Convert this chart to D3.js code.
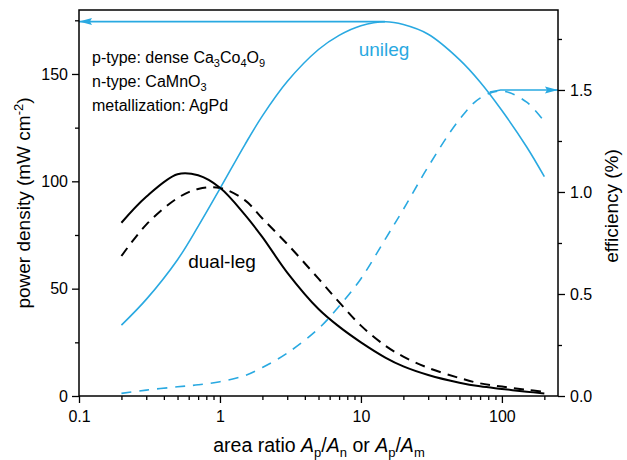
<!DOCTYPE html>
<html>
<head>
<meta charset="utf-8">
<script src="https://cdn.jsdelivr.net/npm/d3@7"></script>
<style>
    body { margin: 0; background: #fff; }
    svg { display: block; font-family: 'Liberation Sans', Arial, sans-serif; }
</style>
</head>
<body>
<div id="chart"></div>
<script>
// area ratio values the curves were sampled at
const ratio = [0.2, 0.3, 0.5, 0.7, 1, 1.5, 2, 3, 5, 7, 10, 15, 20, 30, 50, 70, 100, 150, 200];

// power density (mW cm-2), left axis
const dualPower = [80.7, 92.8, 103.3, 102.8, 97, 84.5, 74, 57.5, 40.5, 32.3, 25, 17.8, 13.8, 9.8, 6.2, 4.5, 3.3, 2, 1.2];
const uniPower = [33, 45, 63.5, 79, 96.6, 117, 130.5, 146.5, 161.4, 168, 172.5, 174.3, 173, 168.5, 156.7, 146.3, 133, 116, 102.2];

// efficiency (%), right axis
const dualEff = [0.686, 0.84, 0.97, 1.015, 1.02, 0.96, 0.87, 0.745, 0.575, 0.46, 0.345, 0.245, 0.193, 0.138, 0.088, 0.062, 0.046, 0.03, 0.021];
const uniEff = [0.013, 0.029, 0.045, 0.055, 0.07, 0.1, 0.14, 0.21, 0.33, 0.44, 0.575, 0.773, 0.915, 1.124, 1.356, 1.46, 1.495, 1.44, 1.345];

// axis ticks
const xTicks = [0.1, 1, 10, 100];
const leftTicks = [0, 50, 100, 150];
const leftMinor = [25, 75, 125, 175];
const rightTicks = [0, 0.5, 1.0, 1.5];
const rightMinor = [0.25, 0.75, 1.25, 1.75];

// arrows: [x, value] points
const powerArrow = [[14.8, 174.4], [0.1, 174.4]];
const effArrow = [[82, 1.49], [98, 1.5], [250, 1.5]];

const BLUE = '#29a9e1';
const width = 627, height = 460;
const margin = { left: 79, right: 69, top: 10, bottom: 64 };

const svg = d3.select('#chart').append('svg')
    .attr('width', width)
    .attr('height', height);

const x = d3.scaleLog().domain([0.1, 250]).range([margin.left, width - margin.right]);
const yL = d3.scaleLinear().domain([0, 179.8]).range([height - margin.bottom, margin.top]);
const yR = d3.scaleLinear().domain([0, 1.892]).range([height - margin.bottom, margin.top]);

const x0 = margin.left, x1 = width - margin.right;
const y0 = height - margin.bottom, y1 = margin.top;

// arrow head marker
const defs = svg.append('defs');
defs.append('marker')
    .attr('id', 'head')
    .attr('viewBox', '0 0 13 8')
    .attr('refX', 13)
    .attr('refY', 4)
    .attr('markerWidth', 13)
    .attr('markerHeight', 8)
    .attr('markerUnits', 'userSpaceOnUse')
    .attr('orient', 'auto')
    .append('path')
    .attr('d', 'M0,0.5 L13,4 L0,7.5 L2,4 Z')
    .attr('fill', BLUE);

// curves
const pts = (vals) => ratio.map((r, i) => [r, vals[i]]);

const lineL = d3.line().x(d => x(d[0])).y(d => yL(d[1])).curve(d3.curveCatmullRom.alpha(0.5));
const lineR = d3.line().x(d => x(d[0])).y(d => yR(d[1])).curve(d3.curveCatmullRom.alpha(0.5));

svg.append('path').attr('d', lineR(pts(uniEff)))
    .attr('fill', 'none').attr('stroke', BLUE).attr('stroke-width', 1.6)
    .attr('stroke-dasharray', '10,8');
svg.append('path').attr('d', lineR(pts(dualEff)))
    .attr('fill', 'none').attr('stroke', '#000').attr('stroke-width', 2)
    .attr('stroke-dasharray', '10,7');
svg.append('path').attr('d', lineL(pts(uniPower)))
    .attr('fill', 'none').attr('stroke', BLUE).attr('stroke-width', 1.6);
svg.append('path').attr('d', lineL(pts(dualPower)))
    .attr('fill', 'none').attr('stroke', '#000').attr('stroke-width', 2);

// arrows
svg.append('path').attr('d', d3.line().x(d => x(d[0])).y(d => yL(d[1]))(powerArrow))
    .attr('fill', 'none').attr('stroke', BLUE).attr('stroke-width', 1.6)
    .attr('marker-end', 'url(#head)');
svg.append('path').attr('d', d3.line().x(d => x(d[0])).y(d => yR(d[1]))(effArrow))
    .attr('fill', 'none').attr('stroke', BLUE).attr('stroke-width', 1.6)
    .attr('marker-end', 'url(#head)');

// frame
svg.append('rect')
    .attr('x', x0).attr('y', y1)
    .attr('width', x1 - x0).attr('height', y0 - y1)
    .attr('fill', 'none').attr('stroke', '#000').attr('stroke-width', 1.5);

// axes
function styleAxis(g) {
    g.select('.domain').remove();
    g.selectAll('line').attr('stroke', '#000').attr('stroke-width', 1.3);
    g.selectAll('text').attr('font-size', 16).attr('fill', '#000')
        .attr('font-family', "'Liberation Sans', Arial, sans-serif");
}

const xMinor = [];
[0.1, 1, 10, 100].forEach(d => {
    for (let k = 2; k <= 9; k++) {
        if (d * k <= 250) xMinor.push(d * k);
    }
});

svg.append('g')
    .attr('transform', `translate(0,${y0})`)
    .call(d3.axisBottom(x).tickValues(xMinor).tickSize(4).tickFormat(''))
    .call(styleAxis);
svg.append('g')
    .attr('transform', `translate(0,${y0})`)
    .call(d3.axisBottom(x).tickValues(xTicks).tickSize(7).tickPadding(8).tickFormat(d3.format('~g')))
    .call(styleAxis);

svg.append('g')
    .attr('transform', `translate(${x0},0)`)
    .call(d3.axisLeft(yL).tickValues(leftMinor).tickSize(4).tickFormat(''))
    .call(styleAxis);
svg.append('g')
    .attr('transform', `translate(${x0},0)`)
    .call(d3.axisLeft(yL).tickValues(leftTicks).tickSize(7).tickPadding(4).tickFormat(d3.format('d')))
    .call(styleAxis);

svg.append('g')
    .attr('transform', `translate(${x1},0)`)
    .call(d3.axisRight(yR).tickValues(rightMinor).tickSize(4).tickFormat(''))
    .call(styleAxis);
svg.append('g')
    .attr('transform', `translate(${x1},0)`)
    .call(d3.axisRight(yR).tickValues(rightTicks).tickSize(7).tickPadding(5).tickFormat(d3.format('.1f')))
    .call(styleAxis);

// axis titles
const xTitle = svg.append('text')
    .attr('x', 319).attr('y', 452)
    .attr('text-anchor', 'middle')
    .attr('font-size', 19.5);
xTitle.append('tspan').text('area ratio ');
xTitle.append('tspan').attr('font-style', 'italic').text('A');
xTitle.append('tspan').attr('font-size', 13).attr('dy', 5).text('p');
xTitle.append('tspan').attr('dy', -5).text('/');
xTitle.append('tspan').attr('font-style', 'italic').text('A');
xTitle.append('tspan').attr('font-size', 13).attr('dy', 5).text('n');
xTitle.append('tspan').attr('dy', -5).text(' or ');
xTitle.append('tspan').attr('font-style', 'italic').text('A');
xTitle.append('tspan').attr('font-size', 13).attr('dy', 5).text('p');
xTitle.append('tspan').attr('dy', -5).text('/');
xTitle.append('tspan').attr('font-style', 'italic').text('A');
xTitle.append('tspan').attr('font-size', 13).attr('dy', 5).text('m');

const yTitle = svg.append('text')
    .attr('transform', `translate(30,${(y0 + y1) / 2}) rotate(-90)`)
    .attr('text-anchor', 'middle')
    .attr('font-size', 19);
yTitle.append('tspan').text('power density (mW cm');
yTitle.append('tspan').attr('font-size', 13).attr('dy', -7).text('-2');
yTitle.append('tspan').attr('dy', 7).text(')');

svg.append('text')
    .attr('transform', `translate(618,${(y0 + y1) / 2 + 3}) rotate(-90)`)
    .attr('text-anchor', 'middle')
    .attr('font-size', 19)
    .text('efficiency (%)');

// curve labels
svg.append('text')
    .attr('x', 384).attr('y', 56)
    .attr('text-anchor', 'middle')
    .attr('font-size', 19)
    .attr('fill', BLUE)
    .text('unileg');
svg.append('text')
    .attr('x', 222).attr('y', 268)
    .attr('text-anchor', 'middle')
    .attr('font-size', 19)
    .attr('fill', '#000')
    .text('dual-leg');

// material notes
const notes = [
    [['p-type: dense Ca', ''], ['3', 'sub'], ['Co', ''], ['4', 'sub'], ['O', ''], ['9', 'sub']],
    [['n-type: CaMnO', ''], ['3', 'sub']],
    [['metallization: AgPd', '']]
];
notes.forEach((parts, i) => {
    const t = svg.append('text')
        .attr('x', 92).attr('y', 63 + i * 24)
        .attr('font-size', 16);
    let shifted = false;
    parts.forEach(([s, kind]) => {
        const span = t.append('tspan').text(s);
        if (kind === 'sub') {
            span.attr('font-size', 11).attr('dy', shifted ? 0 : 4);
            shifted = true;
        } else if (shifted) {
            span.attr('dy', -4);
            shifted = false;
        }
    });
});
</script>
</body>
</html>
